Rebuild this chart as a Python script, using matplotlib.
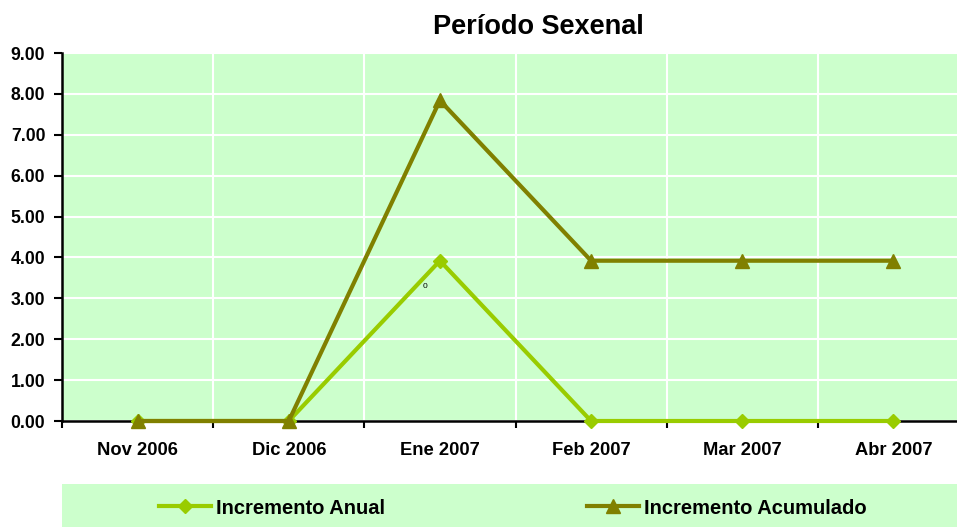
import matplotlib.pyplot as plt
from matplotlib.lines import Line2D
from matplotlib.patches import Rectangle

plt.rcParams['font.family'] = ['Liberation Sans', 'DejaVu Sans']

meses = ['Nov 2006', 'Dic 2006', 'Ene 2007', 'Feb 2007', 'Mar 2007', 'Abr 2007']
anual = [0.0, 0.0, 3.92, 0.0, 0.0, 0.0]
acumulado = [0.0, 0.0, 7.84, 3.92, 3.92, 3.92]
yticks = [0, 1, 2, 3, 4, 5, 6, 7, 8, 9]

W, H = 957, 527
fig = plt.figure(figsize=(W / 100, H / 100), dpi=100)
fig.patch.set_facecolor('white')

# plot area (right edge runs past the picture, as in the original)
ax = fig.add_axes([62 / W, 1 - 421 / H, (969 - 62) / W, (421 - 53) / H])
ax.set_facecolor('#CCFFCC')

x = list(range(len(meses)))
ax.plot(x, anual, color='#99CC00', lw=3, marker='D', ms=7, zorder=3, clip_on=False)
ax.plot(x, acumulado, color='#808000', lw=3, marker='^', ms=9.5, zorder=4, clip_on=False)
ax.text(1.9, 3.3, '0', fontsize=6, ha='center', va='center')

ax.set_xlim(-0.5, len(meses) - 0.5)
ax.set_ylim(0, 9)
ax.set_yticks(yticks)
ax.set_yticklabels(['%.2f' % v for v in yticks], fontsize=12.7, fontweight='bold')
ax.set_xticks([i - 0.5 for i in range(len(meses) + 1)])
ax.set_xticklabels([])
ax.set_xticks(x, minor=True)
ax.set_xticklabels(meses, minor=True, fontsize=13.2, fontweight='bold')
ax.tick_params(axis='x', which='minor', length=0, pad=15)
ax.tick_params(axis='x', which='major', length=5, width=1.5, direction='out')
ax.tick_params(axis='y', length=6, width=1.5, direction='out', pad=6)

ax.grid(True, which='major', color='white', lw=1.5)
ax.set_axisbelow(True)
for s in ['top', 'right']:
    ax.spines[s].set_visible(False)
for s in ['left', 'bottom']:
    ax.spines[s].set_linewidth(1.8)
    ax.spines[s].set_zorder(2.5)

fig.text(538 / W, 1 - 27 / H, 'Período Sexenal', ha='center', va='center',
         fontsize=19.5, fontweight='bold')

# legend band
fig.patches.append(Rectangle((62 / W, 0), 1, (527 - 484) / H, transform=fig.transFigure,
                             facecolor='#CCFFCC', edgecolor='none', zorder=0))
h1 = Line2D([], [], color='#99CC00', lw=3, marker='D', ms=7)
h2 = Line2D([], [], color='#808000', lw=3, marker='^', ms=9.5)
for h, lab, x0 in [(h1, 'Incremento Anual', 149), (h2, 'Incremento Acumulado', 577)]:
    fig.legend([h], [lab], loc='center left', bbox_to_anchor=(x0 / W, 1 - 508 / H),
               frameon=False, borderpad=0, handlelength=2.6, handletextpad=0.25,
               prop={'size': 14.5, 'weight': 'bold'})

fig.savefig('out.png', dpi=100)
